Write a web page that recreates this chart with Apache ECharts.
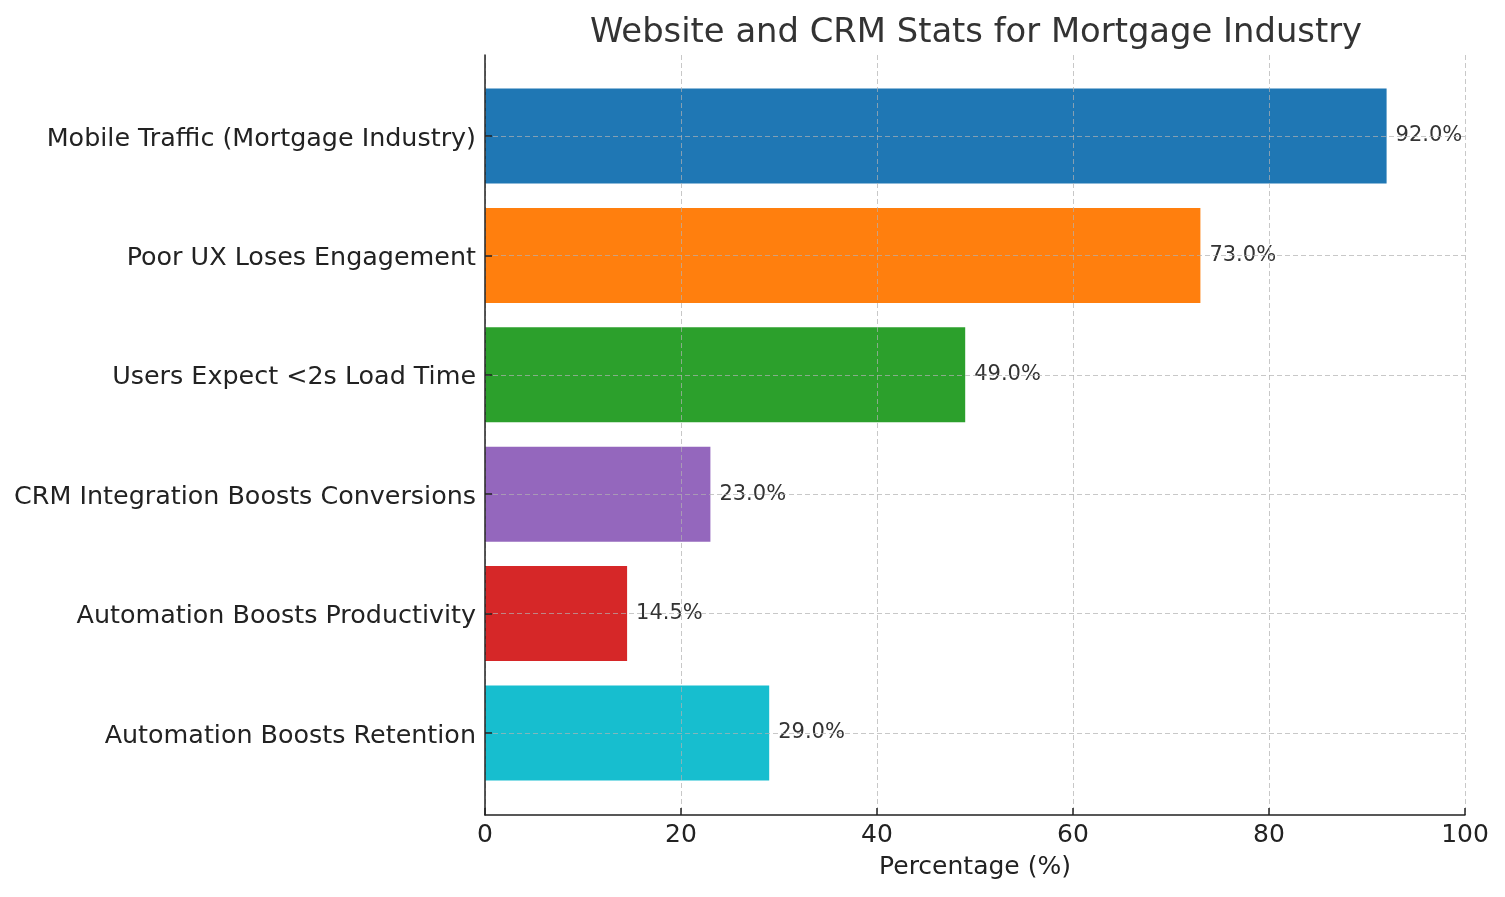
<!DOCTYPE html>
<html>
<head>
<meta charset="utf-8">
<title>Website and CRM Stats for Mortgage Industry</title>
<script src="https://cdn.jsdelivr.net/npm/echarts@6/dist/echarts.min.js"></script>
<style>
  html, body { margin: 0; padding: 0; background: #fff; }
  #main { width: 1505px; height: 897px; }
</style>
</head>
<body>
<div id="main"></div>
<script>
// data
var categories = [
    'Mobile Traffic (Mortgage Industry)',
    'Poor UX Loses Engagement',
    'Users Expect <2s Load Time',
    'CRM Integration Boosts Conversions',
    'Automation Boosts Productivity',
    'Automation Boosts Retention'
];
var values = [92.0, 73.0, 49.0, 23.0, 14.5, 29.0];
var xTicks = [0, 20, 40, 60, 80, 100];

var palette = ['#1f77b4', '#ff7f0e', '#2ca02c', '#9467bd', '#d62728', '#17becf'];
var gridColor = 'rgba(176,176,176,0.7)';
var font = 'DejaVu Sans';

var myChart = echarts.init(document.getElementById('main'));

var option = {
    backgroundColor: '#fff',
    animation: false,
    textStyle: { fontFamily: font },
    title: {
        text: 'Website and CRM Stats for Mortgage Industry',
        left: 971,
        textAlign: 'center',
        top: 11,
        textStyle: { fontFamily: font, fontSize: 33.8, fontWeight: 'normal', color: '#333' }
    },
    grid: [
        // full plot frame (spines, x axis, vertical gridlines)
        { left: 485, right: 40, top: 55, bottom: 82 },
        // band area holding the bars
        { left: 485, right: 40, top: 136, bottom: 164 }
    ],
    xAxis: [
        {
            gridIndex: 0,
            type: 'value',
            min: xTicks[0],
            max: xTicks[xTicks.length - 1],
            interval: 20,
            z: 10,
            name: 'Percentage (%)',
            nameLocation: 'middle',
            nameGap: 40,
            nameTextStyle: { fontFamily: font, fontSize: 25, color: '#222' },
            axisLine: { show: true, lineStyle: { color: '#222', width: 1.5 } },
            axisTick: { show: true, inside: true, length: 7, lineStyle: { color: '#222', width: 1.5 } },
            axisLabel: { fontFamily: font, fontSize: 25, color: '#222', margin: 8 },
            splitLine: { show: true, lineStyle: { color: gridColor, type: [5, 3], width: 1 } }
        },
        {
            gridIndex: 1,
            type: 'value',
            min: 0,
            max: 100,
            show: false
        }
    ],
    yAxis: [
        {
            gridIndex: 0,
            type: 'value',
            min: 0,
            max: 1,
            z: 10,
            axisLine: { show: true, lineStyle: { color: '#222', width: 1.5 } },
            axisTick: { show: false },
            axisLabel: { show: false },
            splitLine: { show: false }
        },
        {
            gridIndex: 1,
            type: 'category',
            data: categories,
            inverse: true,
            boundaryGap: false,
            z: 10,
            axisLine: { show: false },
            axisTick: { show: true, inside: true, length: 7, interval: 0, lineStyle: { color: '#222', width: 1.5 } },
            axisLabel: {
                margin: 9,
                interval: 0,
                formatter: function (v) { return '{c|' + v + '}'; },
                rich: {
                    c: { fontFamily: font, fontSize: 25.4, color: '#222', padding: [6, 0, 0, 0] }
                }
            },
            splitLine: { show: true, interval: 0, lineStyle: { color: gridColor, type: [5, 3], width: 1 } }
        }
    ],
    series: [
        {
            type: 'bar',
            xAxisIndex: 1,
            yAxisIndex: 1,
            clip: false,
            barWidth: 95,
            data: values.map(function (v, i) {
                return { value: v, itemStyle: { color: palette[i] } };
            }),
            label: {
                show: true,
                position: 'right',
                distance: 9,
                fontFamily: font,
                fontSize: 21,
                color: '#333',
                formatter: function (p) { return p.value.toFixed(1) + '%'; }
            }
        }
    ]
};

myChart.setOption(option);
</script>
</body>
</html>
